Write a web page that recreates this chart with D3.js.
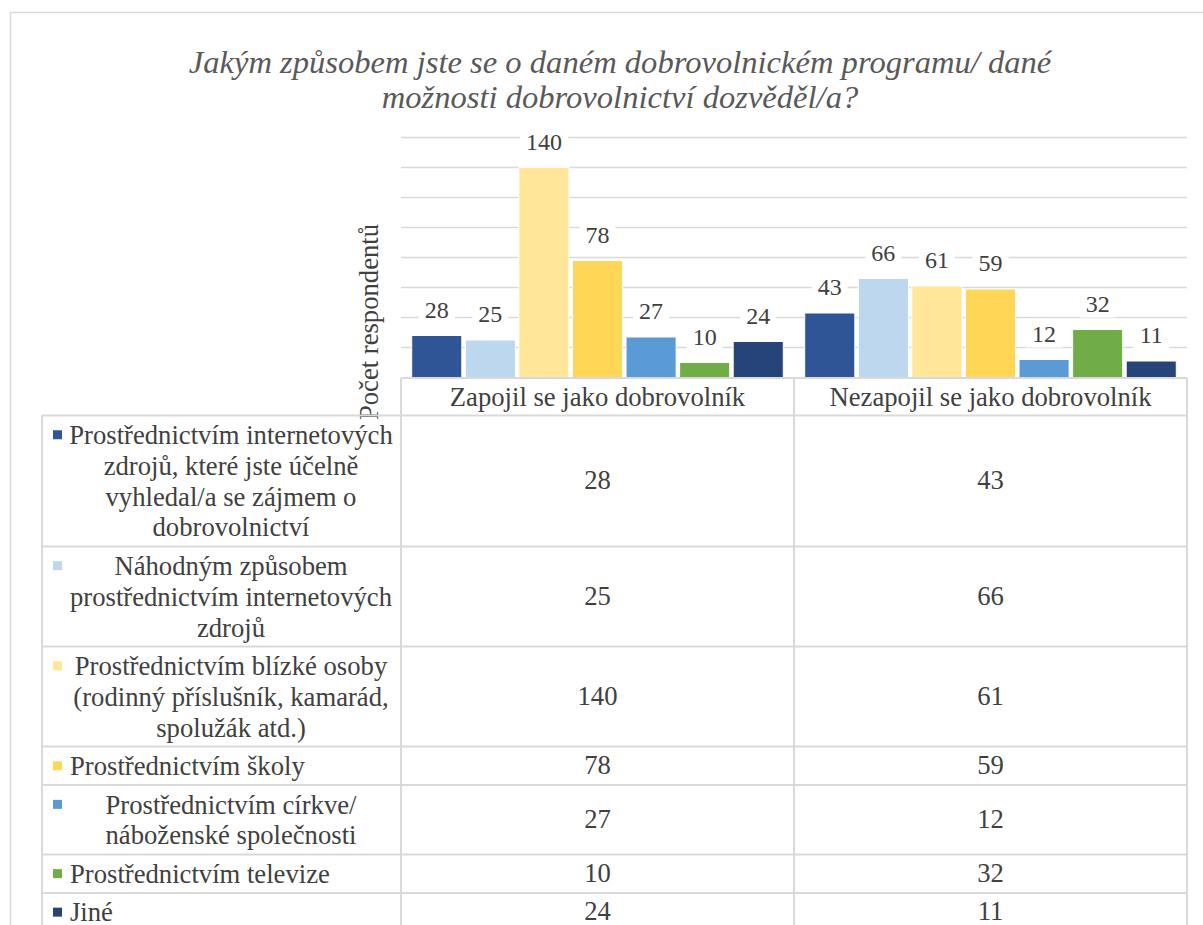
<!DOCTYPE html>
<html>
<head>
<script src="https://cdn.jsdelivr.net/npm/d3@7"></script>
</head>
<body style="margin:0">
<svg id="chart" width="1203" height="925"></svg>
<script>
// data
let title = ['Jakým způsobem jste se o daném dobrovolnickém programu/ dané', 'možnosti dobrovolnictví dozvěděl/a?']
let yTitle = 'Počet respondentů'
let groups = ['Zapojil se jako dobrovolník', 'Nezapojil se jako dobrovolník']
let series = [
  'Prostřednictvím internetových\nzdrojů, které jste účelně\nvyhledal/a se zájmem o\ndobrovolnictví',
  'Náhodným způsobem\nprostřednictvím internetových\nzdrojů',
  'Prostřednictvím blízké osoby\n(rodinný příslušník, kamarád,\nspolužák atd.)',
  'Prostřednictvím školy',
  'Prostřednictvím církve/\nnáboženské společnosti',
  'Prostřednictvím televize',
  'Jiné'
]
let zapojil = [28, 25, 140, 78, 27, 10, 24]
let nezapojil = [43, 66, 61, 59, 12, 32, 11]
let colors = ['#2F5597', '#BDD7EE', '#FFE699', '#FFD655', '#5B9BD5', '#70AD47', '#264478']
let yTicks = [0, 20, 40, 60, 80, 100, 120, 140, 160]

let values = [zapojil, nezapojil]

let font = 'Times New Roman'
let svg = d3.select('#chart')
let grid = '#D9D9D9'
let txt = '#404040'

// chart area border
svg.append('rect')
  .attr('x', 10.5).attr('y', 12.5)
  .attr('width', 1250).attr('height', 1000)
  .attr('fill', '#fff').attr('stroke', grid).attr('stroke-width', 1.5)

// title, sized so the first line spans like the original
let tt = svg.selectAll('text.title').data(title).enter()
  .append('text').attr('class', 'title')
  .attr('x', 620).attr('y', (d, i) => 62 + i * 35).attr('dy', '0.35em')
  .attr('text-anchor', 'middle')
  .attr('font-family', font).attr('font-style', 'italic')
  .attr('font-size', 30).attr('fill', '#595959')
  .text(d => d)
let w0 = tt.node().getComputedTextLength()
tt.attr('font-size', Math.min(36, 30 * 863 / w0))

let plotLeft = 401, plotRight = 1187
let x0 = d3.scaleBand().domain(groups).range([plotLeft, plotRight])
let x1 = d3.scaleBand().domain(d3.range(series.length))
  .range([0, x0.bandwidth()]).paddingInner(0.065).paddingOuter(0.2)
let y = d3.scaleLinear().domain([0, 160]).range([377.5, 137.5])

// gridlines
svg.append('g').selectAll('line').data(yTicks.slice(1)).enter()
  .append('line')
  .attr('x1', plotLeft).attr('x2', plotRight)
  .attr('y1', d => y(d)).attr('y2', d => y(d))
  .attr('stroke', grid).attr('stroke-width', 1.5)

// bars
let g = svg.append('g').selectAll('g').data(groups).enter()
  .append('g')
  .attr('transform', d => `translate(${x0(d)},0)`)

g.selectAll('rect').data((d, gi) => values[gi].map((v, i) => ({v, i}))).enter()
  .append('rect')
  .attr('x', d => x1(d.i))
  .attr('y', d => y(d.v))
  .attr('width', x1.bandwidth())
  .attr('height', d => y(0) - y(d.v))
  .attr('fill', d => colors[d.i])
  .attr('stroke', '#fff').attr('stroke-width', 1)

// data labels with white background
let lbl = g.selectAll('g.lbl').data((d, gi) => values[gi].map((v, i) => ({v, i}))).enter()
  .append('g').attr('class', 'lbl')
  .attr('transform', d => `translate(${x1(d.i) + x1.bandwidth() / 2},${y(d.v) - 26})`)
lbl.append('rect')
  .attr('x', d => -String(d.v).length * 6 - 6).attr('y', -14)
  .attr('width', d => String(d.v).length * 12 + 12).attr('height', 28)
  .attr('fill', '#fff')
lbl.append('text')
  .attr('text-anchor', 'middle').attr('dy', '0.35em')
  .attr('font-family', font).attr('font-size', 24).attr('fill', txt)
  .text(d => d.v)

// y axis title
svg.append('text')
  .attr('transform', 'translate(369,322) rotate(-90)')
  .attr('text-anchor', 'middle').attr('dy', '0.35em')
  .attr('font-family', font).attr('font-size', 26.67).attr('fill', txt)
  .text(yTitle)

// data table
let lineH = 30.8, pad = 7.7
let headTop = 378, headBot = 415.5
let tableLeft = 42
let rows = []
let rowTop = headBot
series.forEach((s, i) => {
  let lines = s.split('\n')
  let h = lines.length * lineH + pad
  rows.push({lines, i, top: rowTop, h})
  rowTop += h
})

let tbl = svg.append('g')
// header
tbl.selectAll('text.head').data(groups).enter()
  .append('text').attr('class', 'head')
  .attr('x', d => x0(d) + x0.bandwidth() / 2)
  .attr('y', (headTop + headBot) / 2).attr('dy', '0.35em')
  .attr('text-anchor', 'middle')
  .attr('font-family', font).attr('font-size', 26.67).attr('fill', txt)
  .text(d => d)

// horizontal lines
tbl.append('line')
  .attr('x1', plotLeft).attr('x2', plotRight).attr('y1', headTop).attr('y2', headTop)
  .attr('stroke', grid).attr('stroke-width', 2)
tbl.selectAll('line.h').data(rows).enter()
  .append('line').attr('class', 'h')
  .attr('x1', tableLeft).attr('x2', plotRight)
  .attr('y1', d => d.top).attr('y2', d => d.top)
  .attr('stroke', grid).attr('stroke-width', 2)
// vertical lines
tbl.selectAll('line.v').data([plotLeft, x0(groups[1]), plotRight]).enter()
  .append('line').attr('class', 'v')
  .attr('x1', d => d).attr('x2', d => d).attr('y1', headTop).attr('y2', 925)
  .attr('stroke', grid).attr('stroke-width', 2)
tbl.append('line')
  .attr('x1', tableLeft).attr('x2', tableLeft).attr('y1', headBot).attr('y2', 925)
  .attr('stroke', grid).attr('stroke-width', 2)

let row = tbl.selectAll('g.row').data(rows).enter()
  .append('g').attr('class', 'row')

// legend keys
row.append('rect')
  .attr('x', 53).attr('y', d => d.top + pad / 2 + lineH / 2 - 4.5)
  .attr('width', 9).attr('height', 9)
  .attr('fill', d => colors[d.i])

row.append('text')
  .attr('font-family', font).attr('font-size', 26.67).attr('fill', txt)
  .attr('text-anchor', d => d.lines.length > 1 ? 'middle' : 'start')
  .each(function (d) {
    d3.select(this).selectAll('tspan').data(d.lines).enter()
      .append('tspan')
      .attr('x', d.lines.length > 1 ? 231 : 70)
      .attr('y', (l, k) => d.top + pad / 2 + lineH * (k + 0.5))
      .attr('dy', '0.35em')
      .text(l => l)
  })

groups.forEach((gname, gi) => {
  row.append('text')
    .attr('x', x0(gname) + x0.bandwidth() / 2)
    .attr('y', d => d.top + d.h / 2 - 1).attr('dy', '0.35em')
    .attr('text-anchor', 'middle')
    .attr('font-family', font).attr('font-size', 26.67).attr('fill', txt)
    .text(d => values[gi][d.i])
})
</script>
</body>
</html>
